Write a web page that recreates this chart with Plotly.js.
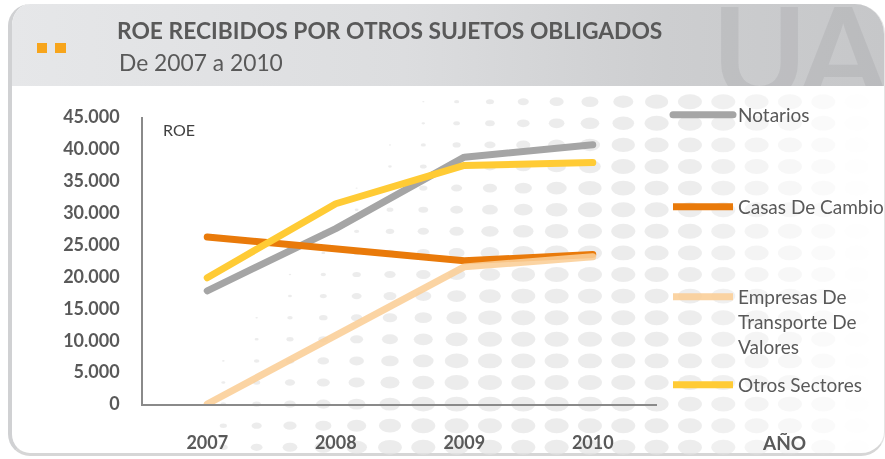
<!DOCTYPE html>
<html>
<head>
<meta charset="utf-8">
<script src="https://cdn.plot.ly/plotly-3.0.1.min.js"></script>
<style>
  html,body{margin:0;padding:0;width:885px;height:459px;overflow:hidden;background:#fff;}
  #card{position:absolute;left:8px;top:4px;width:872px;height:449px;border-left:4px solid #d0d1d3;border-bottom:3px solid #d6d6d6;border-right:1px solid #e4e4e4;border-radius:22px 30px 24px 22px;overflow:hidden;background:#fff;}
  #hdr{position:absolute;left:0;top:0;right:0;height:82px;background:linear-gradient(90deg,#e6e7e9 0%,#dcdddf 45%,#cdced0 75%,#c6c7c9 100%);overflow:hidden;}
  #wm{position:absolute;left:700px;top:-30px;font:bold 128px Lato,sans-serif;color:rgba(150,151,153,0.24);letter-spacing:-6px;white-space:nowrap;}
  .sq{position:absolute;top:39px;width:10px;height:10px;background:#f7a51c;}
  #dots{position:absolute;left:0;top:0;}
  #chart{position:absolute;left:0;top:0;width:885px;height:459px;}
  .scatterlayer path.js-line,.legend path.js-line{stroke-linecap:round !important;stroke-linejoin:round !important;}
  .cartesianlayer .plot{clip-path:none !important;}
</style>
</head>
<body>
<div id="card">
  <div id="hdr"><div id="wm">UAF</div></div>
  <div class="sq" style="left:25px"></div>
  <div class="sq" style="left:43px;width:11px"></div>
</div>
<canvas id="dots" width="885" height="459"></canvas>
<div id="chart"></div>
<script>
// ---- data ----
var years = ['2007', '2008', '2009', '2010'];
var notarios = [17750, 27500, 38700, 40650];
var casasDeCambio = [26200, 24450, 22450, 23450];
var empresasTransporte = [0, 10800, 21500, 23100];
var otrosSectores = [19800, 31400, 37400, 37850];
var seriesNames = ['Notarios', 'Casas De Cambio', 'Empresas De<br>Transporte De<br>Valores', 'Otros Sectores'];
var yTicks = [0, 5000, 10000, 15000, 20000, 25000, 30000, 35000, 40000, 45000];

// ---- decorative halftone background ----
(function(){
  var c = document.getElementById('dots').getContext('2d');
  for (var r = 0; r < 18; r++) {
    var y = 101.7 + 21.6 * r;
    if (y > 450) break;
    for (var k = -6; k < 15; k++) {
      var x = 423.3 + 33.33 * k;
      if (x < 220 || x > 880) continue;
      var x0 = 400 - (y - 101.7) * (255 / 322);
      var w = Math.min(24, 0.09 * (x - x0));
      if (w < 1.5) continue;
      var a = x > 680 ? Math.max(0, 1 - (x - 680) / 190) : 1;
      if (a <= 0) continue;
      c.fillStyle = 'rgba(228,228,228,' + (0.7 * a) + ')';
      c.beginPath();
      c.ellipse(x, y, w / 2, w * 0.31, 0, 0, Math.PI * 2);
      c.fill();
    }
  }
})();

var FONT = 'Lato, "Open Sans", sans-serif';
var TXT = '#595959';

function tr(name, vals, color, legend) {
  return {
    type: 'scatter', mode: 'lines', name: name, x: years, y: vals,
    line: {color: color, width: 7}, legend: legend, hoverinfo: 'x+y+name'
  };
}

var data = [
  tr(seriesNames[0], notarios, '#a5a5a5', 'legend'),
  tr(seriesNames[1], casasDeCambio, '#e97a0a', 'legend2'),
  tr(seriesNames[2], empresasTransporte, 'rgba(250,206,150,0.88)', 'legend3'),
  tr(seriesNames[3], otrosSectores, '#ffcb35', 'legend4')
];

function leg(yPx, xPx) {
  return {
    xref: 'container', yref: 'container',
    x: xPx / 885, y: 1 - yPx / 459, xanchor: 'left', yanchor: 'top',
    bgcolor: 'rgba(0,0,0,0)', borderwidth: 0, itemwidth: 60, valign: 'top',
    font: {family: FONT, size: 19, color: TXT}, itemclick: false, itemdoubleclick: false
  };
}

var layout = {
  width: 885, height: 459,
  margin: {l: 143, r: 228, t: 117, b: 55, pad: 0},
  paper_bgcolor: 'rgba(0,0,0,0)', plot_bgcolor: 'rgba(0,0,0,0)',
  separators: ',.',
  font: {family: FONT, color: TXT},
  title: {
    text: '<b>ROE RECIBIDOS POR OTROS SUJETOS OBLIGADOS</b>',
    xref: 'container', yref: 'container', x: 117 / 885, xanchor: 'left',
    y: 1 - 31 / 459, yanchor: 'middle',
    font: {family: FONT, size: 22.8, color: TXT}
  },
  xaxis: {
    type: 'category', range: [-0.5, 3.5], showline: true, linecolor: '#8a8a8a', linewidth: 1.5,
    showgrid: false, zeroline: false, ticks: '', tickvals: years, ticktext: years,
    tickfont: {family: FONT, size: 18, color: TXT, weight: 'bold'}, ticklabelstandoff: 22, fixedrange: true
  },
  yaxis: {
    range: [0, 45000], showline: true, linecolor: '#8a8a8a', linewidth: 1.5,
    showgrid: false, zeroline: false, ticks: '', tickvals: yTicks, tickformat: ',d',
    tickfont: {family: FONT, size: 18, color: TXT, weight: 'bold'}, ticklabelstandoff: 18, fixedrange: true
  },
  legend: leg(96, 668),
  legend2: leg(188, 668),
  legend3: leg(278, 668),
  legend4: leg(366, 668),
  annotations: [
    {text: 'De 2007 a 2010', xref: 'paper', yref: 'paper', x: (117 - 143) / 514, y: (404.3 - 62) / 287.6,
     xanchor: 'left', yanchor: 'middle', showarrow: false, font: {family: FONT, size: 22.8, color: TXT}},
    {text: 'ROE', xref: 'paper', yref: 'paper', x: (161 - 143) / 514, y: (404.3 - 129) / 287.6,
     xanchor: 'left', yanchor: 'middle', showarrow: false, font: {family: FONT, size: 16, color: '#404040'}},
    {text: '<b>AÑO</b>', xref: 'paper', yref: 'paper', x: (784 - 143) / 514, y: (404.3 - 443) / 287.6,
     xanchor: 'center', yanchor: 'middle', showarrow: false, font: {family: FONT, size: 19, color: TXT}}
  ],
  showlegend: true
};

Plotly.newPlot('chart', data, layout, {displayModeBar: false, staticPlot: false});
</script>
</body>
</html>
